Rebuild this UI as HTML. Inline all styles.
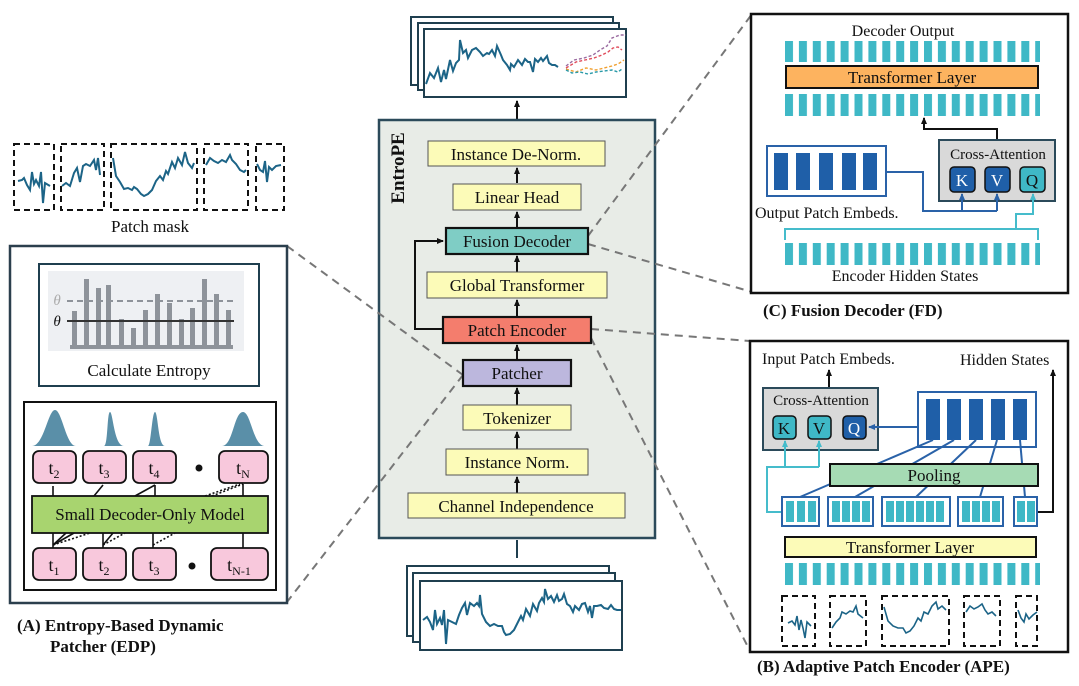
<!DOCTYPE html>
<html><head><meta charset="utf-8"><style>
html,body{margin:0;padding:0;background:#fff}
svg{display:block}
text{font-family:"Liberation Serif",serif;fill:#111}
</style></head><body>
<svg width="1079" height="686" viewBox="0 0 1079 686" xmlns="http://www.w3.org/2000/svg">
<defs>
<pattern id="bars" x="785" y="0" width="13.9" height="686" patternUnits="userSpaceOnUse"><rect x="0" y="0" width="8" height="686" fill="#3fb8c6"/></pattern>
<marker id="ar" markerWidth="8" markerHeight="8" refX="6" refY="4" orient="auto" markerUnits="userSpaceOnUse"><path d="M0,1 L7,4 L0,7 z" fill="#111"/></marker>
<marker id="arb" markerWidth="8" markerHeight="8" refX="6" refY="4" orient="auto" markerUnits="userSpaceOnUse"><path d="M0,1 L7,4 L0,7 z" fill="#2a62a8"/></marker>
<marker id="arc" markerWidth="8" markerHeight="8" refX="6" refY="4" orient="auto" markerUnits="userSpaceOnUse"><path d="M0,1 L7,4 L0,7 z" fill="#45bccb"/></marker>
</defs>

<!-- top forecast frames -->
<g stroke="#1f3f4f" stroke-width="2" fill="#fff">
<rect x="411" y="17" width="202" height="68"/>
<rect x="418" y="23" width="201" height="67"/>
<rect x="424" y="29" width="202" height="68"/>
</g>
<polyline fill="none" stroke="#1c6487" stroke-width="2" points="426,84 430,73 434,78 438,68 441,82 444,70 446,79 450,60 453,71 456,63 459,60 460,40 463,53 466,50 468,58 472,50 476,48 480,52 483,56 487,53 489,54 492,50 495,56 497,46 501,55 503,60 507,65 510,70 511,64 514,67 518,60 522,65 525,59 528,62 530,62 533,72 535,59 538,62 541,58 543,61 547,56 549,63 552,65 555,65 558,67"/>
<g fill="none" stroke-width="1.4" stroke-dasharray="3,2">
<polyline stroke="#9a6aa0" points="566,66 574,60 584,58 593,55 600,50 607,46 612,38 620,35 626,35"/>
<polyline stroke="#e04a5a" points="566,68 576,62 585,60 594,58 602,55 608,52 613,48 618,47 622,50"/>
<polyline stroke="#f0a030" points="566,69 576,72 586,68 596,70 604,68 612,66 618,64 624,60"/>
<polyline stroke="#2a9aa8" points="566,70 572,73 580,72 588,74 596,72 604,71 612,70 618,72 622,69"/>
</g>
<line x1="517" y1="120" x2="517" y2="101" stroke="#111" stroke-width="2" marker-end="url(#ar)"/>

<!-- center box -->
<rect x="379" y="120" width="276" height="418" fill="#e8ece7" stroke="#2b4a5a" stroke-width="2.5"/>
<text x="404" y="168" transform="rotate(-90 404 168)" text-anchor="middle" font-weight="bold" font-size="19">EntroPE</text>

<!-- dashed connectors -->
<g stroke="#777" stroke-width="2" stroke-dasharray="8,6" fill="none">
<line x1="588" y1="236" x2="752" y2="14"/>
<line x1="588" y1="244" x2="752" y2="292"/>
<line x1="591" y1="329" x2="750" y2="341"/>
<line x1="591" y1="338" x2="750" y2="651"/>
<line x1="463" y1="375" x2="287" y2="246"/>
<line x1="463" y1="375" x2="287" y2="602"/>
</g>

<g stroke="#111" stroke-width="2">
<line x1="517" y1="493" x2="517" y2="477" marker-end="url(#ar)"/>
<line x1="517" y1="449" x2="517" y2="432" marker-end="url(#ar)"/>
<line x1="517" y1="405" x2="517" y2="388" marker-end="url(#ar)"/>
<line x1="517" y1="360" x2="517" y2="345" marker-end="url(#ar)"/>
<line x1="517" y1="317" x2="517" y2="300" marker-end="url(#ar)"/>
<line x1="517" y1="272" x2="517" y2="256" marker-end="url(#ar)"/>
<line x1="517" y1="228" x2="517" y2="212" marker-end="url(#ar)"/>
<line x1="517" y1="183" x2="517" y2="168" marker-end="url(#ar)"/>
<polyline fill="none" points="443,329 415,329 415,241 443,241" marker-end="url(#ar)"/>
<line x1="517" y1="558" x2="517" y2="540" stroke="#1f3f4f"/>
</g>
<g font-size="17" text-anchor="middle">
<rect x="428" y="141" width="177" height="25" fill="#fcfbb8" stroke="#555" stroke-width="1"/><text x="516" y="160">Instance De-Norm.</text>
<rect x="453" y="184" width="128" height="26" fill="#fcfbb8" stroke="#555" stroke-width="1"/><text x="517" y="203">Linear Head</text>
<rect x="446" y="228" width="142" height="26" fill="#7fcdc5" stroke="#111" stroke-width="2.2"/><text x="517" y="247">Fusion Decoder</text>
<rect x="427" y="272" width="180" height="26" fill="#fcfbb8" stroke="#555" stroke-width="1"/><text x="517" y="291">Global Transformer</text>
<rect x="443" y="317" width="148" height="26" fill="#f47d6d" stroke="#111" stroke-width="2.2"/><text x="517" y="336">Patch Encoder</text>
<rect x="463" y="360" width="108" height="26" fill="#bcb7dd" stroke="#111" stroke-width="2.2"/><text x="517" y="379">Patcher</text>
<rect x="463" y="405" width="108" height="25" fill="#fcfbb8" stroke="#555" stroke-width="1"/><text x="517" y="424">Tokenizer</text>
<rect x="446" y="449" width="142" height="26" fill="#fcfbb8" stroke="#555" stroke-width="1"/><text x="517" y="468">Instance Norm.</text>
<rect x="408" y="493" width="217" height="25" fill="#fcfbb8" stroke="#555" stroke-width="1"/><text x="516" y="512">Channel Independence</text>
</g>

<!-- bottom input frames -->
<g stroke="#1f3f4f" stroke-width="2" fill="#fff">
<rect x="407" y="566" width="202" height="70"/>
<rect x="413" y="573" width="202" height="69"/>
<rect x="420" y="581" width="202" height="69"/>
</g>
<polyline fill="none" stroke="#1c6487" stroke-width="2" points="423,620 427,617 430,622 433,630 435,610 437,624 440,618 442,625 444,610 446,644 448,620 452,622 456,624 459,615 462,608 465,603 467,615 470,603 474,606 477,603 479,606 480,595 482,614 486,622 490,626 494,624 498,626 502,626 504,632 506,635 510,634 514,630 518,622 521,616 523,620 526,609 530,616 533,604 537,611 539,603 542,598 544,602 545,589 548,599 551,596 554,602 557,595 559,601 562,599 564,594 567,604 570,606 573,612 575,606 579,610 582,604 585,603 588,612 590,606 592,618 594,606 597,606 601,605 604,608 608,609 611,605 614,609 617,610 621,610"/>

<!-- LEFT: patch mask -->
<g fill="none" stroke="#111" stroke-width="2" stroke-dasharray="6,4">
<rect x="14" y="144" width="40" height="66"/>
<rect x="61" y="144" width="43" height="66"/>
<rect x="111" y="144" width="86" height="66"/>
<rect x="204" y="144" width="44" height="66"/>
<rect x="256" y="144" width="28" height="66"/>
</g>
<polyline fill="none" stroke="#1c6487" stroke-width="2" points="18,181 22,180 24,178 27,185 30,190 32,172 34,184 36,180 39,186 41,172 43,203 45,183 50,186"/>
<polyline fill="none" stroke="#1c6487" stroke-width="2" points="62,186 66,183 70,186 74,173 77,168 80,182 83,166 86,164 90,166 94,160 96,170 98,158 100,175"/>
<polyline fill="none" stroke="#1c6487" stroke-width="2" points="113,158 116,176 120,182 124,189 128,188 132,190 134,187 137,189 141,194 144,196 148,194 152,190 156,181 160,176 163,180 166,171 168,174 172,162 175,168 178,158 182,165 185,152 188,163 192,168 194,163"/>
<polyline fill="none" stroke="#1c6487" stroke-width="2" points="206,165 210,158 214,161 218,163 222,160 226,162 230,155 232,160 236,164 240,170 244,172 246,170"/>
<polyline fill="none" stroke="#1c6487" stroke-width="2" points="257,164 260,170 263,172 265,161 267,182 269,167 272,170 276,166 281,165"/>
<text x="150" y="232" font-size="17" text-anchor="middle">Patch mask</text>

<!-- LEFT panel -->
<rect x="10" y="246" width="277" height="357" fill="#fff" stroke="#2b3f4d" stroke-width="2.5"/>
<rect x="39" y="264" width="220" height="122" fill="#fff" stroke="#1f3f4f" stroke-width="2"/>
<rect x="48" y="271" width="196" height="80" fill="#eef0f3"/>
<g fill="#8e939a">
<rect x="72" y="311" width="5" height="37"/><rect x="84" y="279" width="5" height="69"/>
<rect x="96" y="288" width="5" height="60"/><rect x="106" y="285" width="5" height="63"/>
<rect x="119" y="319" width="5" height="29"/><rect x="131" y="328" width="5" height="20"/>
<rect x="143" y="310" width="5" height="38"/><rect x="155" y="294" width="5" height="54"/>
<rect x="167" y="303" width="5" height="45"/><rect x="179" y="319" width="5" height="29"/>
<rect x="190" y="308" width="5" height="40"/><rect x="202" y="279" width="5" height="69"/>
<rect x="214" y="294" width="5" height="54"/><rect x="226" y="310" width="5" height="38"/>
<rect x="70" y="345" width="163" height="4"/>
</g>
<line x1="67" y1="301" x2="234" y2="301" stroke="#8e939a" stroke-width="2" stroke-dasharray="6,4"/>
<line x1="67" y1="321" x2="234" y2="321" stroke="#333" stroke-width="2"/>
<text x="57" y="305" font-size="15" font-style="italic" style="fill:#aaa" text-anchor="middle">θ</text>
<text x="57" y="326" font-size="15" font-style="italic" text-anchor="middle">θ</text>
<text x="149" y="376" font-size="17" text-anchor="middle">Calculate Entropy</text>

<rect x="24" y="402" width="252" height="188" fill="#fff" stroke="#111" stroke-width="2"/>
<g fill="#5a8fa8">
<path d="M32,446 C44,446 48,410 55,410 C62,410 66,446 76,446 z"/>
<path d="M84,446 L104,446 C108,446 107,412 110,412 C113,412 114,446 124,446 z"/>
<path d="M134,446 L148,446 C151,446 152,412 155,412 C158,412 158,446 165,446 z"/>
<path d="M222,446 C233,446 234,412 243,412 C251,412 253,446 265,446 z"/>
</g>
<g fill="#f8c8dc" stroke="#111" stroke-width="1.8">
<rect x="33" y="451" width="43" height="32" rx="6"/><rect x="83" y="451" width="43" height="32" rx="6"/>
<rect x="133" y="451" width="43" height="32" rx="6"/><rect x="219" y="451" width="49" height="32" rx="6"/>
<rect x="33" y="548" width="43" height="32" rx="6"/><rect x="83" y="548" width="43" height="32" rx="6"/>
<rect x="133" y="548" width="43" height="32" rx="6"/><rect x="211" y="548" width="57" height="32" rx="6"/>
</g>
<g stroke="#111" stroke-width="1.6" fill="none">
<line x1="53" y1="496" x2="53" y2="486"/><line x1="94" y1="496" x2="103" y2="485"/><line x1="135" y1="496" x2="155" y2="485"/><line x1="155" y1="496" x2="155" y2="485"/><line x1="243" y1="496" x2="243" y2="484"/>
<line x1="53" y1="548" x2="53" y2="533"/><line x1="53" y1="545" x2="66" y2="533"/><line x1="53" y1="545" x2="74" y2="533"/>
<line x1="103" y1="548" x2="103" y2="533"/><line x1="103" y1="545" x2="113" y2="533"/>
<line x1="153" y1="548" x2="153" y2="533"/><line x1="243" y1="548" x2="243" y2="533"/>
</g>
<g stroke="#111" stroke-width="1.6" stroke-dasharray="2,2" fill="none">
<line x1="53" y1="545" x2="90" y2="533"/><line x1="103" y1="545" x2="125" y2="533"/><line x1="153" y1="545" x2="175" y2="533"/>
<line x1="205" y1="496" x2="240" y2="484"/><line x1="212" y1="496" x2="243" y2="484"/>
</g>
<rect x="32" y="496" width="236" height="37" fill="#a8d46f" stroke="#111" stroke-width="1.8"/>
<text x="150" y="520" font-size="17" text-anchor="middle">Small Decoder-Only Model</text>
<g font-size="18" text-anchor="middle">
<text x="54" y="474">t<tspan font-size="12" dy="4">2</tspan></text>
<text x="104" y="474">t<tspan font-size="12" dy="4">3</tspan></text>
<text x="154" y="474">t<tspan font-size="12" dy="4">4</tspan></text>
<text x="243" y="474">t<tspan font-size="12" dy="4">N</tspan></text>
<text x="54" y="571">t<tspan font-size="12" dy="4">1</tspan></text>
<text x="104" y="571">t<tspan font-size="12" dy="4">2</tspan></text>
<text x="154" y="571">t<tspan font-size="12" dy="4">3</tspan></text>
<text x="239" y="571">t<tspan font-size="12" dy="4">N-1</tspan></text>
</g>
<circle cx="199" cy="468" r="3.5" fill="#111"/><circle cx="192" cy="566" r="3.5" fill="#111"/>
<text x="17" y="631" font-size="17" font-weight="bold">(A) Entropy-Based Dynamic</text>
<text x="50" y="652" font-size="17" font-weight="bold">Patcher (EDP)</text>

<!-- RIGHT TOP (C) -->
<rect x="751" y="14" width="317" height="279" fill="#fff" stroke="#111" stroke-width="2.5"/>
<text x="903" y="36" font-size="16" text-anchor="middle">Decoder Output</text>
<rect x="785" y="41" width="255" height="21" fill="url(#bars)"/>
<rect x="786" y="66" width="252" height="22" fill="#fdb35f" stroke="#111" stroke-width="2"/>
<text x="912" y="83" font-size="17" text-anchor="middle">Transformer Layer</text>
<rect x="785" y="94" width="255" height="22" fill="url(#bars)"/>
<polyline points="997,140 997,129 924,129 924,118" fill="none" stroke="#111" stroke-width="2" marker-end="url(#ar)"/>
<rect x="939" y="140" width="116" height="61" fill="#d9d9d9" stroke="#2b4a5a" stroke-width="2"/>
<text x="998" y="159" font-size="15" text-anchor="middle">Cross-Attention</text>
<rect x="767" y="146" width="119" height="50" fill="#fff" stroke="#2a62a8" stroke-width="2"/>
<g fill="#1f5fa8"><rect x="774" y="153" width="14" height="37"/><rect x="796" y="153" width="14" height="37"/><rect x="819" y="153" width="14" height="37"/><rect x="842" y="153" width="14" height="37"/><rect x="863" y="153" width="14" height="37"/></g>
<text x="755" y="218" font-size="16">Output Patch Embeds.</text>
<polyline points="886,172 923,172 923,211 997,211" fill="none" stroke="#2a62a8" stroke-width="2"/>
<line x1="962" y1="211" x2="962" y2="194" stroke="#2a62a8" stroke-width="2" marker-end="url(#arb)"/>
<line x1="997" y1="211" x2="997" y2="194" stroke="#2a62a8" stroke-width="2" marker-end="url(#arb)"/>
<polyline points="785,240 785,229 1038,229 1038,240" fill="none" stroke="#45bccb" stroke-width="2"/>
<polyline points="1016,229 1016,214 1033,214 1033,194" fill="none" stroke="#45bccb" stroke-width="2" marker-end="url(#arc)"/>
<g stroke="#111" stroke-width="1.5">
<rect x="950" y="167" width="25" height="25" rx="4" fill="#1f5fa8"/><rect x="985" y="167" width="25" height="25" rx="4" fill="#1f5fa8"/><rect x="1020" y="167" width="25" height="25" rx="4" fill="#3fb8c6"/>
</g>
<g font-size="17" text-anchor="middle"><text x="962" y="186" style="fill:#fff">K</text><text x="997" y="186" style="fill:#fff">V</text><text x="1032" y="186">Q</text></g>
<rect x="785" y="243" width="255" height="22" fill="url(#bars)"/>
<text x="905" y="281" font-size="16" text-anchor="middle">Encoder Hidden States</text>
<text x="763" y="316" font-size="17" font-weight="bold">(C) Fusion Decoder (FD)</text>

<!-- RIGHT BOTTOM (B) -->
<rect x="750" y="341" width="318" height="311" fill="#fff" stroke="#111" stroke-width="2.5"/>
<text x="762" y="364" font-size="16">Input Patch Embeds.</text>
<text x="960" y="365" font-size="16">Hidden States</text>
<line x1="829" y1="388" x2="829" y2="370" stroke="#111" stroke-width="2" marker-end="url(#ar)"/>
<rect x="763" y="388" width="115" height="62" fill="#d9d9d9" stroke="#2b4a5a" stroke-width="2"/>
<text x="821" y="405" font-size="15" text-anchor="middle">Cross-Attention</text>
<g stroke="#111" stroke-width="1.5">
<rect x="773" y="416" width="23" height="23" rx="4" fill="#3fb8c6"/><rect x="808" y="416" width="23" height="23" rx="4" fill="#3fb8c6"/><rect x="843" y="416" width="23" height="23" rx="4" fill="#1f5fa8"/>
</g>
<g font-size="17" text-anchor="middle"><text x="784" y="434">K</text><text x="819" y="434">V</text><text x="854" y="434" style="fill:#fff">Q</text></g>
<rect x="918" y="392" width="118" height="55" fill="#fff" stroke="#2a62a8" stroke-width="2"/>
<g fill="#1f5fa8"><rect x="926" y="399" width="14" height="41"/><rect x="947" y="399" width="14" height="41"/><rect x="969" y="399" width="14" height="41"/><rect x="991" y="399" width="14" height="41"/><rect x="1013" y="399" width="14" height="41"/></g>
<line x1="918" y1="427" x2="869" y2="427" stroke="#2a62a8" stroke-width="2" marker-end="url(#arb)"/>
<g stroke="#2a62a8" stroke-width="2">
<line x1="933" y1="440" x2="800" y2="497"/><line x1="954" y1="440" x2="855" y2="497"/><line x1="976" y1="440" x2="916" y2="497"/><line x1="997" y1="440" x2="980" y2="497"/><line x1="1020" y1="440" x2="1025" y2="497"/>
</g>
<rect x="830" y="464" width="208" height="22" fill="#a6dbb4" stroke="#111" stroke-width="2"/>
<text x="934" y="481" font-size="17" text-anchor="middle">Pooling</text>
<polyline points="782,512 767,512 767,467 819,467" fill="none" stroke="#45bccb" stroke-width="2"/>
<line x1="785" y1="467" x2="785" y2="441" stroke="#45bccb" stroke-width="2" marker-end="url(#arc)"/>
<line x1="819" y1="467" x2="819" y2="441" stroke="#45bccb" stroke-width="2" marker-end="url(#arc)"/>
<polyline points="1037,512 1053,512 1053,370" fill="none" stroke="#111" stroke-width="2" marker-end="url(#ar)"/>
<g fill="#fff" stroke="#2a62a8" stroke-width="2">
<rect x="782" y="497" width="37" height="29"/><rect x="828" y="497" width="45" height="29"/><rect x="882" y="497" width="68" height="29"/><rect x="958" y="497" width="45" height="29"/><rect x="1014" y="497" width="23" height="29"/>
</g>
<g fill="#3fb8c6">
<rect x="786" y="501" width="8" height="21"/><rect x="797" y="501" width="8" height="21"/><rect x="808" y="501" width="8" height="21"/>
<rect x="832" y="501" width="8" height="21"/><rect x="842" y="501" width="8" height="21"/><rect x="852" y="501" width="8" height="21"/><rect x="862" y="501" width="8" height="21"/>
<rect x="886" y="501" width="8" height="21"/><rect x="896" y="501" width="8" height="21"/><rect x="906" y="501" width="8" height="21"/><rect x="916" y="501" width="8" height="21"/><rect x="926" y="501" width="8" height="21"/><rect x="936" y="501" width="8" height="21"/>
<rect x="962" y="501" width="8" height="21"/><rect x="972" y="501" width="8" height="21"/><rect x="982" y="501" width="8" height="21"/><rect x="992" y="501" width="8" height="21"/>
<rect x="1017" y="501" width="8" height="21"/><rect x="1027" y="501" width="8" height="21"/>
</g>
<rect x="785" y="537" width="251" height="20" fill="#fcfbb8" stroke="#111" stroke-width="2"/>
<text x="910" y="553" font-size="17" text-anchor="middle">Transformer Layer</text>
<rect x="785" y="563" width="255" height="22" fill="url(#bars)"/>
<g fill="none" stroke="#111" stroke-width="2" stroke-dasharray="6,4">
<rect x="782" y="596" width="33" height="50"/><rect x="830" y="596" width="36" height="50"/><rect x="882" y="596" width="67" height="50"/><rect x="964" y="596" width="36" height="50"/><rect x="1016" y="596" width="21" height="50"/>
</g>
<polyline fill="none" stroke="#1c6487" stroke-width="1.6" points="788,623 792,621 795,625 797,616 799,630 801,620 803,628 805,638 807,622 811,626"/>
<polyline fill="none" stroke="#1c6487" stroke-width="1.6" points="832,628 836,622 840,618 842,612 846,614 850,611 853,612 856,606 858,614 863,618"/>
<polyline fill="none" stroke="#1c6487" stroke-width="1.6" points="884,607 888,621 893,626 898,628 903,628 906,633 910,631 914,626 918,618 921,621 924,612 928,614 932,606 936,602 938,609 942,606 946,610"/>
<polyline fill="none" stroke="#1c6487" stroke-width="1.6" points="966,612 970,606 974,609 978,607 982,604 985,610 988,614 992,612 996,616"/>
<polyline fill="none" stroke="#1c6487" stroke-width="1.6" points="1018,610 1021,618 1024,622 1026,614 1029,619 1033,615 1037,612"/>
<text x="757" y="672" font-size="17" font-weight="bold">(B) Adaptive Patch Encoder (APE)</text>
</svg>
</body></html>
